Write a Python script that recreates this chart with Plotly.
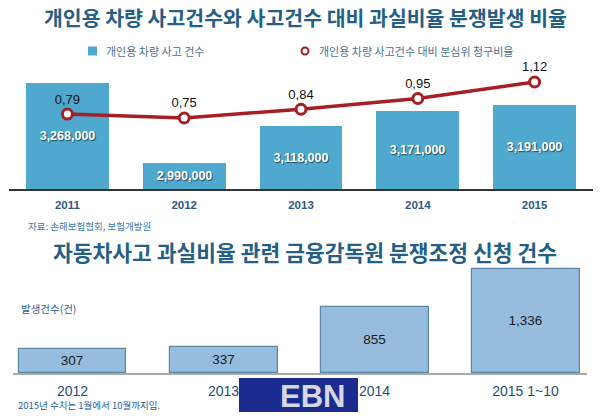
import plotly.graph_objects as go

# ---------------- data ----------------
years_top = ["2011", "2012", "2013", "2014", "2015"]
accidents = [3268000, 2990000, 3118000, 3171000, 3191000]
ratio = [0.79, 0.75, 0.84, 0.95, 1.12]

cats_bottom = ["2012", "2013", "2014", "2015 1~10"]
disputes = [307, 337, 855, 1336]

AXIS_FLOOR = 2900000  # top bar axis starts here (truncated axis as in the original)

W, H = 600, 416
def px(x):
    return x / W
def py(y):
    return 1 - y / H

KR = "Noto Sans CJK KR"
NUM = "Liberation Sans, Arial, sans-serif"
BAR_TOP = "#4fa8cd"
RED = "#a51f24"
TITLE = "#265f86"

fig = go.Figure()

# top: bars (accident count)
fig.add_trace(go.Bar(
    x=years_top, y=[a - AXIS_FLOOR for a in accidents], base=AXIS_FLOOR,
    xaxis="x", yaxis="y", width=0.71,
    marker=dict(color=BAR_TOP, line=dict(width=0)),
    text=[f"{a:,}" for a in accidents], textposition="inside",
    insidetextanchor="middle", textangle=0,
    textfont=dict(family=NUM, size=12.5, color="white", weight="bold",
                  shadow="1px 1px 1px rgba(0,0,0,0.55)"),
    customdata=accidents, hovertemplate="%{x}: %{customdata:,}<extra></extra>",
    showlegend=False, name="개인용 차량 사고 건수"))

# top: line (ratio)
fig.add_trace(go.Scatter(
    x=years_top, y=ratio, xaxis="x", yaxis="y2", mode="lines+markers+text",
    line=dict(color=RED, width=3.5),
    marker=dict(size=10, color="white", line=dict(color=RED, width=3)),
    text=[f"{v:.2f}".replace(".", ",") for v in ratio], textposition="top center",
    textfont=dict(family=NUM, size=13, color="#111111"),
    cliponaxis=False, showlegend=False,
    name="개인용 차량 사고건수 대비 분심위 청구비율"))

# bottom: bars (dispute applications)
fig.add_trace(go.Bar(
    x=cats_bottom, y=disputes, xaxis="x2", yaxis="y3", width=0.715,
    marker=dict(color="#96bcde", line=dict(color="#5f85a4", width=1.2)),
    text=[f"{v:,}" for v in disputes], textposition="inside",
    insidetextanchor="middle", textangle=0,
    textfont=dict(family=NUM, size=13.5, color="#1a1a1a"),
    showlegend=False, name="분쟁조정 신청 건수"))

fig.update_layout(
    width=W, height=H, autosize=False,
    margin=dict(l=0, r=0, t=0, b=0),
    paper_bgcolor="white", plot_bgcolor="white",
    bargap=0,
    xaxis=dict(domain=[px(9), px(593)], anchor="y", type="category",
               range=[-0.5, 4.5], showline=True, linecolor="#333333", linewidth=1.5,
               ticks="", showgrid=False, zeroline=False, fixedrange=True,
               ticklabelstandoff=4,
               tickfont=dict(family=NUM, size=11.5, color="#2b5a86", weight="bold")),
    yaxis=dict(domain=[py(189), py(60)], range=[AXIS_FLOOR, 3348000],
               visible=False, fixedrange=True),
    yaxis2=dict(overlaying="y", range=[0.02, 1.346], visible=False, fixedrange=True),
    xaxis2=dict(domain=[px(13), px(587)], anchor="y3", type="category",
                range=[-0.394, 3.407], showline=True, linecolor="#a8a8a8", linewidth=2,
                ticks="", showgrid=False, zeroline=False, fixedrange=True,
                ticklabelstandoff=4,
                tickfont=dict(family=NUM, size=14, color="#1f4e7a")),
    yaxis3=dict(domain=[py(373), py(265)], range=[0, 1392],
                visible=False, fixedrange=True),
)

ann = []
# titles
ann.append(dict(text="개인용 차량 사고건수와 사고건수 대비 과실비율 분쟁발생 비율",
                x=px(305), y=py(17), xanchor="center", yanchor="middle",
                font=dict(family=KR, size=20.5, color=TITLE, weight="bold")))
ann.append(dict(text="자동차사고 과실비율 관련 금융감독원 분쟁조정 신청 건수",
                x=px(305), y=py(252), xanchor="center", yanchor="middle",
                font=dict(family=KR, size=21.5, color=TITLE, weight="bold")))
# legend texts
ann.append(dict(text="개인용 차량 사고 건수", x=px(104), y=py(51),
                xanchor="left", yanchor="middle",
                font=dict(family=KR, size=11, color="#4d7190")))
ann.append(dict(text="개인용 차량 사고건수 대비 분심위 청구비율", x=px(317), y=py(51),
                xanchor="left", yanchor="middle",
                font=dict(family=KR, size=11, color="#4d7190")))
# source / notes
ann.append(dict(text="자료: 손해보험협회, 보험개발원", x=px(26), y=py(226),
                xanchor="left", yanchor="middle",
                font=dict(family=KR, size=9.5, color="#3b7bb5")))
ann.append(dict(text="발생건수(건)", x=px(19), y=py(308),
                xanchor="left", yanchor="middle",
                font=dict(family=KR, size=10.5, color="#2a64a0")))
ann.append(dict(text="2015년 수치는 1월에서 10월까지임.", x=px(16), y=py(405),
                xanchor="left", yanchor="middle",
                font=dict(family=KR, size=9.5, color="#2a60a0")))
# EBN logo text
ann.append(dict(text="EBN", x=px(312), y=py(396), xanchor="center", yanchor="middle",
                font=dict(family=NUM, size=31, color="#d6d7e2", weight="bold")))
for a in ann:
    a.update(xref="paper", yref="paper", showarrow=False)
fig.update_layout(annotations=ann)

shapes = [
    # legend symbols
    dict(type="rect", xref="paper", yref="paper", x0=px(88), x1=px(97),
         y0=py(55.5), y1=py(46.5), fillcolor=BAR_TOP, line=dict(width=0)),
    dict(type="circle", xref="paper", yref="paper", x0=px(301.5), x1=px(308.5),
         y0=py(54.5), y1=py(47.5), fillcolor="white", line=dict(color=RED, width=2)),
    # EBN logo box
    dict(type="rect", xref="paper", yref="paper", x0=px(239), x1=px(358),
         y0=py(412), y1=py(378), fillcolor="#1c2c8e", line=dict(width=0), layer="below"),
]
fig.update_layout(shapes=shapes)

fig.write_html("out.html", config={"displayModeBar": False},
               post_script="document.body.style.margin='0';document.body.style.overflow='hidden';")
